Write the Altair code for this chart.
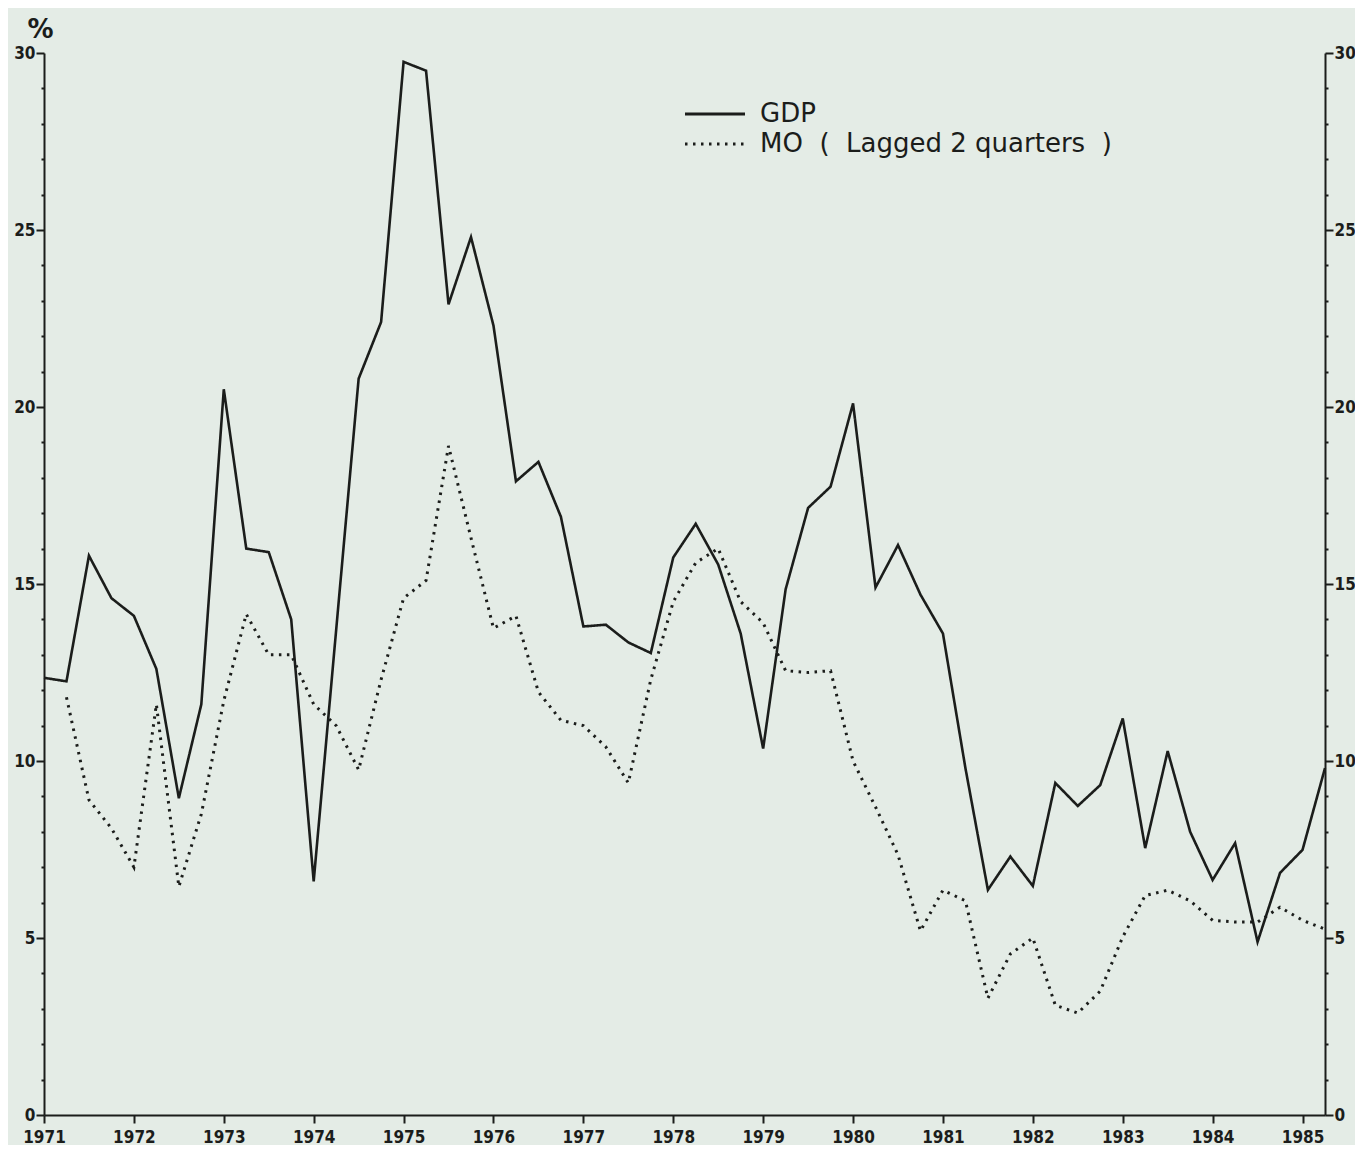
import altair as alt
import pandas as pd

# Quarterly time index (1971 Q1 .. 1985 Q2)
start_year = 1971
n_quarters = 58
quarters = [start_year + 0.25 * i for i in range(n_quarters)]

gdp_values = [
    12.35, 12.25, 15.8, 14.6,      # 1971
    14.1, 12.6, 8.95, 11.6,        # 1972
    20.5, 16.0, 15.9, 14.0,        # 1973
    6.6, 13.7, 20.8, 22.4,         # 1974
    29.75, 29.5, 22.9, 24.8,       # 1975
    22.3, 17.9, 18.45, 16.9,       # 1976
    13.8, 13.85, 13.35, 13.05,     # 1977
    15.75, 16.7, 15.55, 13.6,      # 1978
    10.35, 14.85, 17.15, 17.75,    # 1979
    20.1, 14.9, 16.1, 14.7,        # 1980
    13.6, 9.8, 6.36, 7.3,          # 1981
    6.47, 9.38, 8.73, 9.32,        # 1982
    11.2, 7.54, 10.28, 8.0,        # 1983
    6.64, 7.68, 4.89, 6.84,        # 1984
    7.49, 9.8,                     # 1985
]

# M0 (lagged two quarters) starts at 1971 Q2
m0_values = [
    11.8, 8.9, 8.1,                # 1971
    7.0, 11.6, 6.45, 8.5,          # 1972
    11.7, 14.15, 13.0, 13.0,       # 1973
    11.6, 11.0, 9.75, 12.3,        # 1974
    14.6, 15.1, 18.9, 16.3,        # 1975
    13.75, 14.1, 11.95, 11.15,     # 1976
    11.0, 10.4, 9.38, 12.3,        # 1977
    14.5, 15.6, 16.0, 14.5,        # 1978
    13.9, 12.55, 12.5, 12.55,      # 1979
    10.0, 8.7, 7.35, 5.2,          # 1980
    6.35, 6.05, 3.3, 4.55,         # 1981
    5.0, 3.1, 2.88, 3.5,           # 1982
    5.03, 6.2, 6.35, 6.05,         # 1983
    5.5, 5.45, 5.45, 5.87,         # 1984
    5.5, 5.25,                     # 1985
]

NB = "\u00a0"
series_names = ["GDP", "MO" + NB * 2 + "(" + NB * 2 + "Lagged 2 quarters" + NB * 2 + ")"]
y_ticks = list(range(0, 31))

gdp_df = pd.DataFrame({"t": quarters, "value": gdp_values, "series": series_names[0]})
m0_df = pd.DataFrame({"t": quarters[1:], "value": m0_values, "series": series_names[1]})

INK = "#1b1d1b"
BG = "#e4ece6"
LABEL_FONT = "DejaVu Sans Condensed"

x_enc = alt.X(
    "t:Q",
    scale=alt.Scale(domain=[1971, 1985.25], nice=False, zero=False),
    axis=alt.Axis(
        title=None,
        values=quarters,
        format="d",
        labelExpr="datum.value % 1 === 0 ? datum.label : ''",
        labelOverlap=False,
        labelFlush=False,
        tickSize={"condition": {"test": "datum.value % 1 === 0", "value": 8}, "value": 4},
        labelPadding=6,
    ),
)

y_scale = alt.Scale(domain=[0, 30], nice=False, zero=True)

dash_scale = alt.Scale(domain=series_names, range=[[1, 0], [2.5, 5.5]])

left_axis = alt.Axis(
    orient="left",
    values=y_ticks,
    labelExpr="datum.value % 5 === 0 ? datum.label : ''",
    labelOverlap=False,
    tickSize={"condition": {"test": "datum.value % 5 === 0", "value": 8}, "value": 3},
    labelPadding=1,
    title="%",
    titleAngle=0,
    titleX=-4,
    titleY=-24,
    titleAlign="center",
    titleBaseline="middle",
    titleFontSize=26,
    titleFontWeight="bold",
    titleFont="DejaVu Sans",
    titleColor=INK,
)

right_axis = alt.Axis(
    orient="right",
    values=y_ticks,
    labelExpr="datum.value % 5 === 0 ? datum.label : ''",
    labelOverlap=False,
    tickSize={"condition": {"test": "datum.value % 5 === 0", "value": 8}, "value": 3},
    labelPadding=1,
    title=None,
)

legend = alt.Legend(
    title=None,
    orient="none",
    legendX=638,
    legendY=48,
    symbolType="M-1,0H5",
    symbolSize=400,
    symbolStrokeWidth=2.8,
    symbolStrokeColor=INK,
    symbolFillColor="transparent",
    labelFont="DejaVu Sans",
    labelFontSize=26,
    labelColor=INK,
    labelOffset=52,
    labelLimit=0,
    rowPadding=4,
)

gdp_line = alt.Chart(gdp_df).mark_line(color=INK, strokeWidth=2.6).encode(
    x=x_enc,
    y=alt.Y("value:Q", scale=y_scale, axis=left_axis),
    strokeDash=alt.StrokeDash("series:N", scale=dash_scale, legend=legend),
)

m0_line = alt.Chart(m0_df).mark_line(color=INK, strokeWidth=3).encode(
    x=x_enc,
    y=alt.Y("value:Q", scale=y_scale, axis=right_axis),
    strokeDash=alt.StrokeDash("series:N", scale=dash_scale, legend=legend),
)

chart = (
    alt.layer(gdp_line, m0_line)
    .resolve_axis(y="independent")
    .properties(
        width=1281,
        height=1062,
        padding={"left": 36, "top": 45, "right": 30, "bottom": 30},
        autosize=alt.AutoSizeParams(type="none"),
        background=BG,
    )
    .configure_view(stroke=None)
    .configure_axis(
        domainColor=INK,
        domainWidth=2,
        tickColor=INK,
        tickWidth=2,
        grid=False,
        labelFont=LABEL_FONT,
        labelFontWeight="bold",
        labelFontSize=17,
        labelColor=INK,
    )
)

chart.save("out.html", embed_options={"renderer": "svg", "actions": False})
